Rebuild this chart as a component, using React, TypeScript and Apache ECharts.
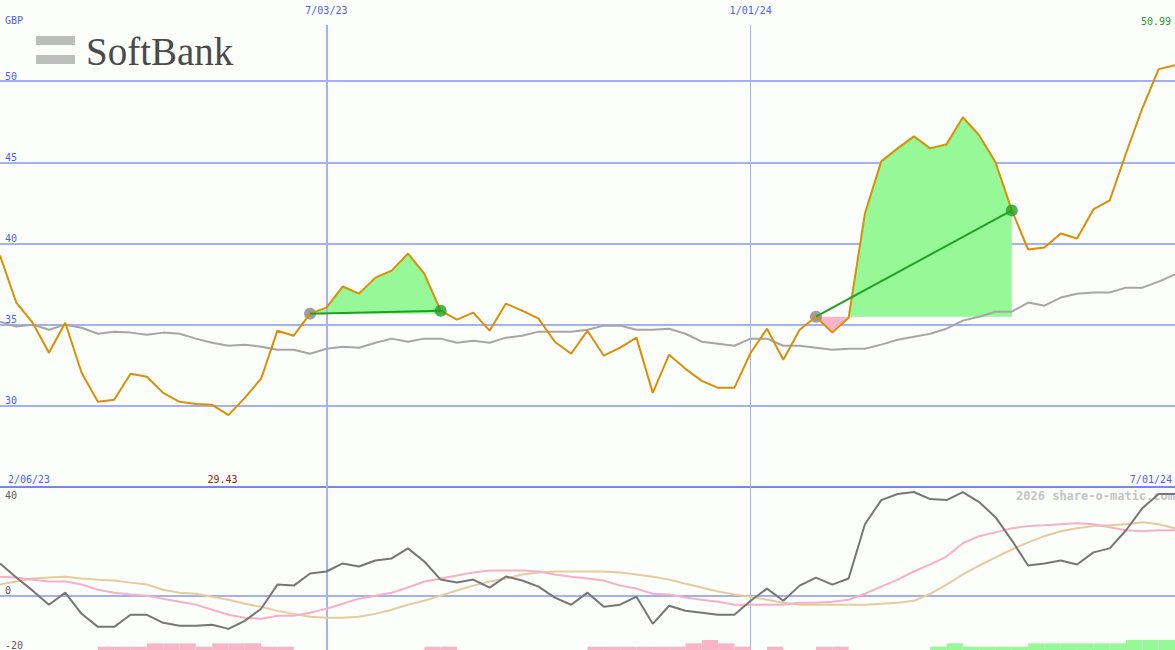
import { useEffect, useRef } from "react";
import * as echarts from "echarts";

// Weekly closes, 13 Feb 2023 to 1 Jul 2024 (m/dd/yy)
const START = Date.UTC(2023, 1, 13);
const WEEK_MS = 7 * 86400000;
const dates: string[] = Array.from({ length: 73 }, (_, i) => {
  const d = new Date(START + i * WEEK_MS);
  return `${d.getUTCMonth() + 1}/${String(d.getUTCDate()).padStart(2, "0")}/${String(d.getUTCFullYear() % 100).padStart(2, "0")}`;
});
const periodStart = "2/06/23";
const markerDates = ["7/03/23", "1/01/24"];

// Share price, GBP
const price = [
  39.26, 36.36, 35.12, 33.27, 35.12, 32.04, 30.25, 30.37, 31.98, 31.79,
  30.8, 30.25, 30.12, 30.06, 29.43, 30.49, 31.67, 34.63, 34.32, 35.68,
  36.05, 37.35, 36.91, 37.9, 38.33, 39.38, 38.15, 35.86, 35.31, 35.74,
  34.63, 36.3, 35.86, 35.37, 33.95, 33.21, 34.63, 33.09, 33.58, 34.2,
  30.8, 33.15, 32.28, 31.54, 31.11, 31.11, 33.27, 34.75, 32.84, 34.69,
  35.49, 34.51, 35.43, 41.85, 45.06, 45.86, 46.6, 45.86, 46.11, 47.78,
  46.67, 45.0, 42.04, 39.63, 39.75, 40.62, 40.31, 42.1, 42.65, 45.56,
  48.33, 50.74, 50.99,
];

// Moving average of the price
const priceAvg = [
  35.19, 34.88, 35.0, 34.69, 35.0, 34.81, 34.44, 34.57, 34.51, 34.38,
  34.51, 34.44, 34.14, 33.89, 33.7, 33.77, 33.64, 33.46, 33.46, 33.21,
  33.52, 33.64, 33.58, 33.89, 34.14, 33.95, 34.14, 34.14, 33.89, 34.01,
  33.89, 34.2, 34.32, 34.57, 34.57, 34.57, 34.69, 34.94, 34.94, 34.69,
  34.69, 34.75, 34.44, 33.95, 33.83, 33.7, 34.14, 34.14, 33.7, 33.7,
  33.58, 33.46, 33.52, 33.52, 33.77, 34.07, 34.26, 34.44, 34.75, 35.25,
  35.49, 35.8, 35.8, 36.36, 36.17, 36.67, 36.91, 36.98, 36.98, 37.28,
  37.28, 37.65, 38.09,
];

// Momentum oscillator and its two smoothed signal lines
const momentum = [
  11.85, 6.67, 1.85, -3.33, 1.11, -6.67, -11.48, -11.48, -7.04, -7.04,
  -10.0, -11.11, -11.11, -10.74, -12.22, -9.26, -4.81, 4.07, 3.7, 8.15,
  8.89, 11.85, 10.74, 12.96, 13.7, 17.41, 12.59, 5.93, 4.81, 5.93,
  2.96, 7.04, 5.56, 3.33, -0.74, -3.33, 1.11, -4.07, -3.33, -0.37,
  -10.37, -3.7, -5.56, -6.3, -7.04, -7.04, -1.85, 2.59, -1.85, 3.7,
  6.67, 4.07, 6.3, 26.3, 35.19, 37.41, 38.15, 35.56, 35.19, 38.15,
  34.44, 28.89, 20.37, 11.11, 11.85, 12.96, 11.48, 15.93, 17.41, 24.07,
  32.22, 37.41, 37.41,
];
const signalFast = [
  7.0, 6.7, 5.9, 5.2, 5.2, 4.1, 2.2, 1.1, 0.4, 0.0,
  -1.1, -2.2, -3.3, -5.2, -7.0, -8.1, -8.5, -7.4, -7.4, -6.3,
  -4.8, -3.0, -1.1, 0.0, 1.1, 3.0, 5.2, 6.3, 7.4, 8.5,
  9.3, 9.3, 9.3, 8.9, 7.8, 7.0, 6.3, 5.6, 3.7, 2.6,
  0.7, 0.4, -0.7, -1.5, -2.2, -3.3, -3.3, -3.3, -3.3, -2.6,
  -2.6, -2.2, -1.5, 0.7, 3.3, 5.9, 8.9, 11.5, 14.4, 19.3,
  21.9, 23.3, 24.8, 25.6, 25.9, 26.3, 26.7, 26.3, 25.2, 24.1,
  23.7, 24.1, 24.1,
];
const signalSlow = [
  4.1, 5.2, 6.3, 6.7, 7.0, 6.3, 5.9, 5.6, 4.8, 4.1,
  2.2, 1.1, 0.7, -0.4, -1.5, -3.0, -4.1, -5.6, -6.7, -7.8,
  -8.1, -8.1, -7.8, -6.7, -5.2, -3.3, -1.9, 0.0, 1.9, 3.7,
  5.2, 6.3, 7.8, 8.5, 8.9, 8.9, 8.9, 8.9, 8.5, 7.8,
  7.0, 5.9, 4.4, 3.0, 1.5, 0.4, -0.4, -1.5, -2.6, -3.3,
  -3.3, -3.3, -3.3, -3.3, -3.0, -2.6, -1.9, 0.7, 4.1, 7.8,
  11.1, 14.1, 17.0, 19.6, 21.9, 23.7, 24.8, 25.6, 25.9, 26.3,
  27.0, 26.3, 24.8,
];

// Weekly signal strength between closes (negative = bearish)
const signalBars = [
  0, 0, 0, 0, 0, 0, -1, -1, -1, -2,
  -2, -2, -1, -2, -2, -2, -1, -1, 0, 0,
  0, 0, 0, 0, 0, 0, -1, -1, 0, 0,
  0, 0, 0, 0, 0, 0, -1, -1, -1, -1,
  -1, -1, -2, -3, -2, -1, 0, -1, 0, 0,
  -1, -1, 0, 0, 0, 0, 0, 1, 2, 1,
  1, 1, 1, 2, 2, 2, 2, 2, 2, 3,
  3, 3,
];

// Trades: entry and exit week indices
const tradeEntry = [19, 50];
const tradeExit = [27, 62];

const BG = "#fcfefc";
const MONO = '"DejaVu Sans Mono", monospace';
const LABEL_BLUE = "#4d5ff2";
const GRID_BLUE = "#a4b0f2";
const BORDER_BLUE = "#7686ee";
const GAIN = "#96f896";
const LOSS = "#f9b5c8";
const TRADE_GREEN = "#22a022";

function buildOption() {
  const markerIdx = markerDates.map((d) => dates.indexOf(d));
  const minVal = Math.min(...price);
  const minIdx = price.indexOf(minVal);
  const lastIdx = price.length - 1;

  const tradeSeries: any[] = [];
  tradeEntry.forEach((e, t) => {
    const x = tradeExit[t];
    const level = price[e];
    const inRange = (i: number) => i >= e && i <= x;
    const hidden = {
      type: "line",
      xAxisIndex: 0,
      yAxisIndex: 0,
      symbol: "none",
      silent: true,
      z: 1,
      stackStrategy: "all",
      lineStyle: { opacity: 0 },
    };
    const base = price.map((_, i) => (inRange(i) ? level : "-"));
    tradeSeries.push(
      { ...hidden, stack: `gain${t}`, data: base },
      {
        ...hidden,
        stack: `gain${t}`,
        data: price.map((p, i) => (inRange(i) ? Math.max(p - level, 0) : "-")),
        areaStyle: { color: GAIN, opacity: 1 },
      },
      { ...hidden, stack: `loss${t}`, data: base },
      {
        ...hidden,
        stack: `loss${t}`,
        data: price.map((p, i) => (inRange(i) ? Math.min(p - level, 0) : "-")),
        areaStyle: { color: LOSS, opacity: 1 },
      },
      {
        type: "line",
        xAxisIndex: 0,
        yAxisIndex: 0,
        z: 5,
        symbol: "none",
        connectNulls: true,
        silent: true,
        lineStyle: { color: TRADE_GREEN, width: 2 },
        data: price.map((p, i) => (i === e || i === x ? p : "-")),
      }
    );
  });

  const hiddenCat = (gridIndex: number, data: string[], boundaryGap = false) => ({
    type: "category",
    gridIndex,
    data,
    boundaryGap,
    show: false,
  });

  const markerAxis = (k: number, color: string, width: number) => ({
    type: "category",
    gridIndex: 2,
    data: dates,
    boundaryGap: false,
    position: "top",
    z: 2,
    axisLine: { show: false },
    axisTick: { show: false },
    axisLabel: {
      interval: (i: number) => i === markerIdx[k],
      color: LABEL_BLUE,
      fontFamily: MONO,
      fontSize: 10,
      margin: 10,
    },
    splitLine: {
      show: true,
      interval: (i: number) => i === markerIdx[k],
      lineStyle: { color, width },
    },
  });

  return {
    animation: false,
    backgroundColor: BG,
    textStyle: { fontFamily: MONO },
    grid: [
      { left: 0, right: 0, top: 0, height: 487 },
      { left: 0, right: 0, top: 487, height: 163 },
      { left: 0, right: 0, top: 25, bottom: 0 },
    ],
    xAxis: [
      hiddenCat(0, dates),
      hiddenCat(1, dates),
      hiddenCat(1, dates.slice(0, dates.length - 1), true),
      markerAxis(0, "#a6b2f2", 2),
      markerAxis(1, "#aab0e0", 1),
    ],
    yAxis: [
      {
        type: "value",
        gridIndex: 0,
        position: "left",
        min: 25,
        max: 55,
        interval: 5,
        axisLine: { show: false },
        axisTick: { show: false },
        axisLabel: {
          inside: true,
          margin: 5,
          verticalAlign: "bottom",
          showMinLabel: false,
          showMaxLabel: false,
          color: LABEL_BLUE,
          fontFamily: MONO,
          fontSize: 10,
        },
        splitLine: {
          show: true,
          showMaxLine: false,
          lineStyle: {
            color: [BORDER_BLUE, GRID_BLUE, GRID_BLUE, GRID_BLUE, GRID_BLUE, GRID_BLUE, "rgba(0,0,0,0)"],
            width: 2,
          },
        },
      },
      {
        type: "value",
        gridIndex: 1,
        position: "left",
        min: -20,
        max: 40,
        interval: 20,
        axisLine: { show: false },
        axisTick: { show: false },
        axisLabel: {
          inside: true,
          margin: 5,
          verticalAlign: "bottom",
          color: "#5a5a5a",
          fontFamily: MONO,
          fontSize: 10,
          formatter: (v: number) => (v === 0 || v === -20 ? String(v) : ""),
        },
        splitLine: {
          show: true,
          lineStyle: {
            color: ["rgba(0,0,0,0)", GRID_BLUE, "rgba(0,0,0,0)", "rgba(0,0,0,0)"],
            width: 2,
          },
        },
      },
      {
        type: "value",
        gridIndex: 1,
        position: "left",
        offset: 0,
        min: -20,
        max: 40,
        interval: 20,
        axisLine: { show: false },
        axisTick: { show: false },
        splitLine: { show: false },
        axisLabel: {
          inside: true,
          margin: 5,
          verticalAlign: "top",
          padding: [3, 0, 0, 0],
          color: "#5a5a5a",
          fontFamily: MONO,
          fontSize: 10,
          formatter: (v: number) => (v === 40 ? String(v) : ""),
        },
      },
      { type: "value", gridIndex: 1, min: 0, max: 49, show: false },
      { type: "value", gridIndex: 2, min: 0, max: 1, show: false },
    ],
    graphic: [
      { type: "rect", shape: { x: 36, y: 36, width: 39, height: 9 }, style: { fill: "#bdbdbd" }, silent: true },
      { type: "rect", shape: { x: 36, y: 55, width: 39, height: 9 }, style: { fill: "#bdbdbd" }, silent: true },
      {
        type: "text",
        x: 86,
        y: 51,
        silent: true,
        style: { text: "SoftBank", font: '39px "Liberation Serif", serif', fill: "#4a4a4a", verticalAlign: "middle" },
      },
      {
        type: "text",
        x: 5,
        y: 20,
        silent: true,
        style: { text: "GBP", font: `10px ${MONO}`, fill: LABEL_BLUE, verticalAlign: "middle" },
      },
      {
        type: "text",
        x: 8,
        y: 479,
        silent: true,
        style: { text: periodStart, font: `10px ${MONO}`, fill: LABEL_BLUE, verticalAlign: "middle" },
      },
      {
        type: "text",
        x: 1172,
        y: 479,
        silent: true,
        style: { text: dates[lastIdx], font: `10px ${MONO}`, fill: LABEL_BLUE, align: "right", verticalAlign: "middle" },
      },
      {
        type: "text",
        x: 1175,
        y: 496,
        z: 0,
        silent: true,
        style: {
          text: "2026 share-o-matic.com",
          font: `bold 12px ${MONO}`,
          fill: "#c4c4c4",
          align: "right",
          verticalAlign: "middle",
        },
      },
    ],
    series: [
      {
        type: "line",
        name: "Average",
        xAxisIndex: 0,
        yAxisIndex: 0,
        z: 3,
        symbol: "none",
        lineStyle: { color: "#a6a6a6", width: 2 },
        data: priceAvg,
      },
      ...tradeSeries,
      {
        type: "scatter",
        xAxisIndex: 0,
        yAxisIndex: 0,
        z: 3,
        symbolSize: 12,
        itemStyle: { color: "#868686" },
        data: tradeEntry.map((i) => [i, price[i]]),
      },
      {
        type: "line",
        name: "Price",
        xAxisIndex: 0,
        yAxisIndex: 0,
        z: 4,
        symbol: "none",
        lineStyle: { color: "#da8f05", width: 2 },
        data: price,
        markPoint: {
          symbol: "circle",
          symbolSize: 0,
          silent: true,
          data: [
            {
              coord: [minIdx, 25],
              value: minVal,
              label: {
                show: true,
                position: "top",
                distance: 3,
                offset: [-6, 0],
                formatter: (p: any) => p.value.toFixed(2),
                color: "#a01818",
                fontFamily: MONO,
                fontSize: 10,
              },
            },
            {
              coord: [lastIdx, 55],
              value: price[lastIdx],
              label: {
                show: true,
                position: "left",
                distance: 4,
                offset: [0, 21],
                formatter: (p: any) => p.value.toFixed(2),
                color: "#229922",
                fontFamily: MONO,
                fontSize: 10,
              },
            },
          ],
        },
      },
      {
        type: "scatter",
        xAxisIndex: 0,
        yAxisIndex: 0,
        z: 6,
        symbolSize: 12,
        itemStyle: { color: TRADE_GREEN },
        data: tradeExit.map((i) => [i, price[i]]),
      },
      {
        type: "bar",
        xAxisIndex: 2,
        yAxisIndex: 3,
        z: 2,
        barCategoryGap: 0,
        silent: true,
        data: signalBars.map((v) => ({ value: Math.abs(v), itemStyle: { color: v < 0 ? LOSS : GAIN } })),
      },
      {
        type: "line",
        name: "Slow signal",
        xAxisIndex: 1,
        yAxisIndex: 1,
        z: 3,
        symbol: "none",
        lineStyle: { color: "#e4cc9c", width: 2 },
        data: signalSlow,
      },
      {
        type: "line",
        name: "Fast signal",
        xAxisIndex: 1,
        yAxisIndex: 1,
        z: 3,
        symbol: "none",
        lineStyle: { color: "#f7b0c8", width: 2 },
        data: signalFast,
      },
      {
        type: "line",
        name: "Momentum",
        xAxisIndex: 1,
        yAxisIndex: 1,
        z: 4,
        symbol: "none",
        lineStyle: { color: "#767676", width: 2 },
        data: momentum,
      },
    ],
  };
}

export default function App() {
  const ref = useRef<HTMLDivElement>(null);
  useEffect(() => {
    if (!ref.current) return;
    const chart = echarts.init(ref.current, null, { renderer: "svg" });
    chart.setOption(buildOption() as any);
    return () => chart.dispose();
  }, []);
  return (
    <div
      ref={ref}
      style={{ position: "fixed", left: 0, top: 0, width: 1175, height: 650, background: BG }}
    />
  );
}
